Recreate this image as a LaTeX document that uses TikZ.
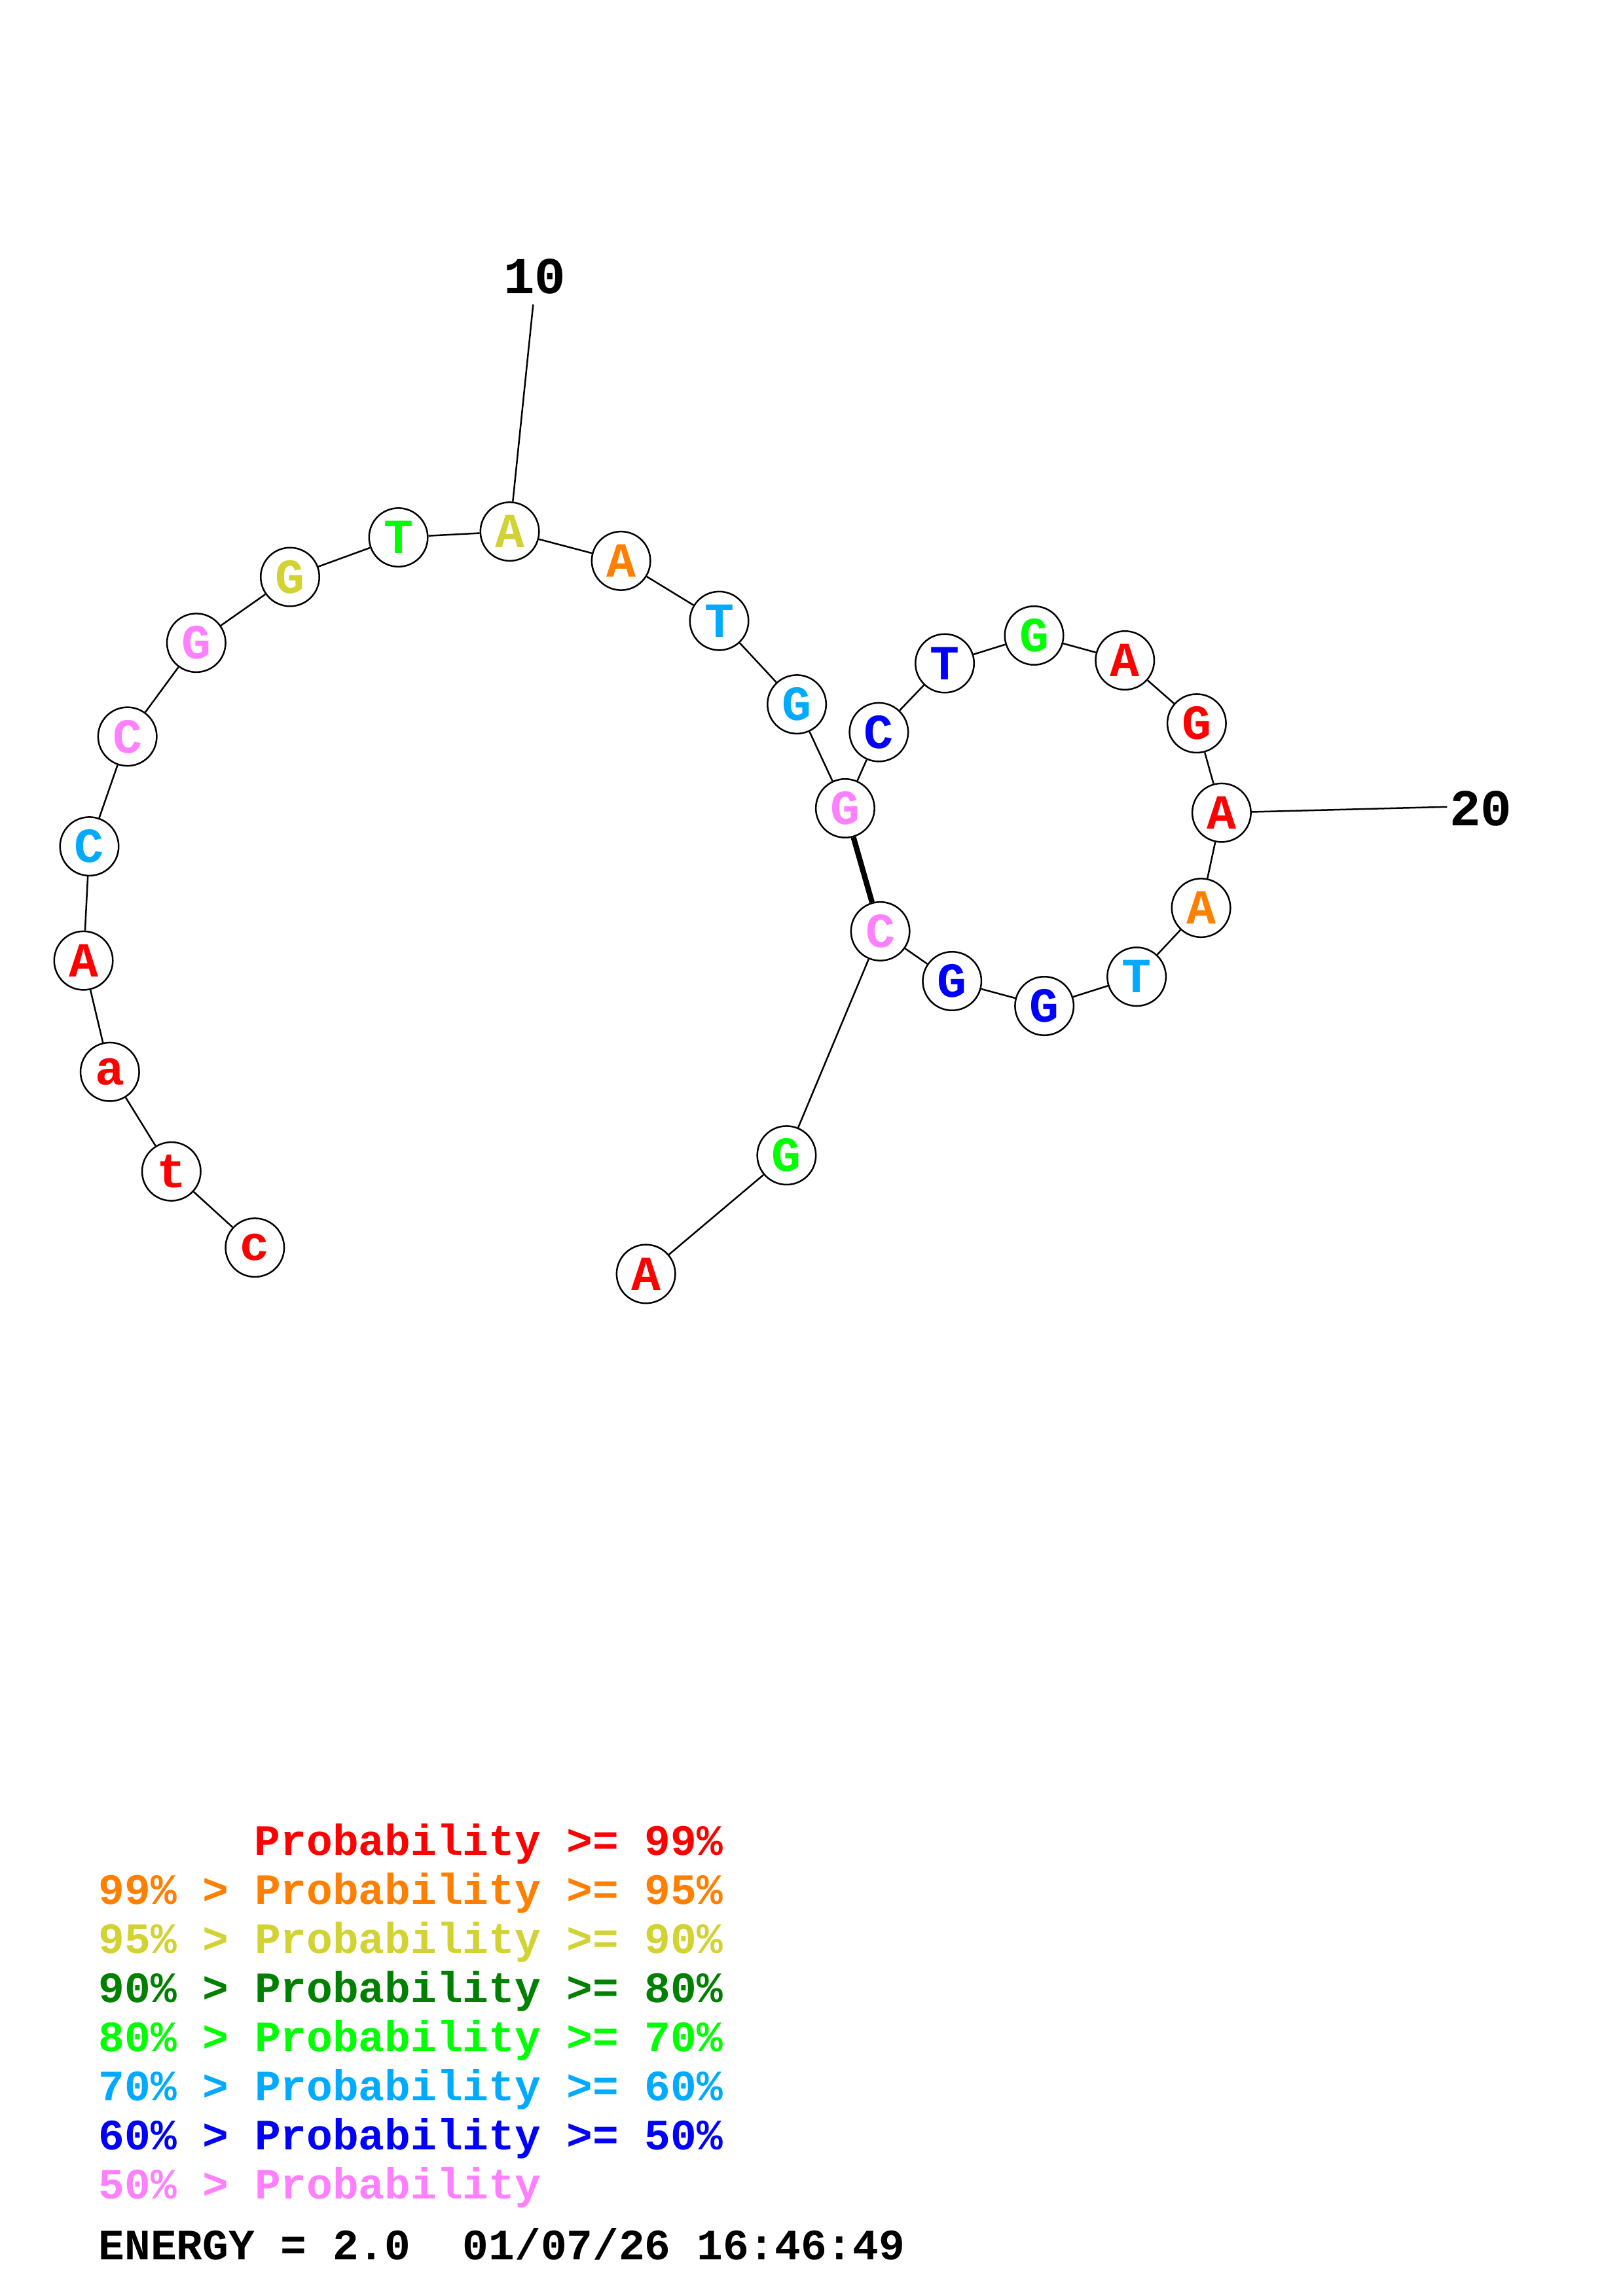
\documentclass[tikz,border=0pt]{standalone}
\usepackage{fontspec}
\newfontfamily\seqmono{Liberation Mono}
\usepackage{tikz}
\usetikzlibrary{positioning}
\definecolor{pbred}{RGB}{255, 0, 0}
\definecolor{pborange}{RGB}{255, 128, 0}
\definecolor{pbyellow}{RGB}{210, 210, 50}
\definecolor{pbdkgreen}{RGB}{0, 128, 0}
\definecolor{pbgreen}{RGB}{0, 255, 0}
\definecolor{pbcyan}{RGB}{0, 170, 255}
\definecolor{pbblue}{RGB}{0, 0, 255}
\definecolor{pbpink}{RGB}{255, 128, 255}
\newcommand{\base}[1]{\textbf{#1}}

\begin{document}
\begin{tikzpicture}[
    x=0.5373pt, y=-0.5373pt,
    nt/.style={
      circle, draw=black, line width=0.6pt, fill=white,
      minimum size=21.5pt, inner sep=0pt,
      font=\seqmono\bfseries\fontsize{18}{18}\selectfont
    },
    numlabel/.style={
      inner sep=0pt, font=\seqmono\bfseries\fontsize{19}{19}\selectfont
    },
    legend/.style={
      anchor=base west, inner sep=0pt,
      font=\seqmono\bfseries\fontsize{15.9}{15.9}\selectfont
    },
    bond/.style={line width=0.6pt},
    pair/.style={line width=2pt}
  ]
    \useasboundingbox (0,0) rectangle (1108,1568);

    % nucleotides, 5' to 3'
    \node[nt, text=pbred]    (n1)  at (174,852) {\base{c}};
    \node[nt, text=pbred]    (n2)  at (117,800) {\base{t}};
    \node[nt, text=pbred]    (n3)  at (75,732)  {\base{a}};
    \node[nt, text=pbred]    (n4)  at (57,656)  {\base{A}};
    \node[nt, text=pbcyan]   (n5)  at (61,578)  {\base{C}};
    \node[nt, text=pbpink]   (n6)  at (87,503)  {\base{C}};
    \node[nt, text=pbpink]   (n7)  at (134,439) {\base{G}};
    \node[nt, text=pbyellow] (n8)  at (198,394) {\base{G}};
    \node[nt, text=pbgreen]  (n9)  at (272,367) {\base{T}};
    \node[nt, text=pbyellow] (n10) at (348,363) {\base{A}};
    \node[nt, text=pborange] (n11) at (424,383) {\base{A}};
    \node[nt, text=pbcyan]   (n12) at (491,424) {\base{T}};
    \node[nt, text=pbcyan]   (n13) at (544,481) {\base{G}};
    \node[nt, text=pbpink]   (n14) at (577,552) {\base{G}};
    \node[nt, text=pbblue]   (n15) at (600,500) {\base{C}};
    \node[nt, text=pbblue]   (n16) at (645,453) {\base{T}};
    \node[nt, text=pbgreen]  (n17) at (706,434) {\base{G}};
    \node[nt, text=pbred]    (n18) at (768,451) {\base{A}};
    \node[nt, text=pbred]    (n19) at (817,494) {\base{G}};
    \node[nt, text=pbred]    (n20) at (834,555) {\base{A}};
    \node[nt, text=pborange] (n21) at (820,620) {\base{A}};
    \node[nt, text=pbcyan]   (n22) at (776,667) {\base{T}};
    \node[nt, text=pbblue]   (n23) at (713,687) {\base{G}};
    \node[nt, text=pbblue]   (n24) at (650,670) {\base{G}};
    \node[nt, text=pbpink]   (n25) at (601,636) {\base{C}};
    \node[nt, text=pbgreen]  (n26) at (537,789) {\base{G}};
    \node[nt, text=pbred]    (n27) at (441,870) {\base{A}};

    % backbone
    \draw[bond] (n1) -- (n2);
    \draw[bond] (n2) -- (n3);
    \draw[bond] (n3) -- (n4);
    \draw[bond] (n4) -- (n5);
    \draw[bond] (n5) -- (n6);
    \draw[bond] (n6) -- (n7);
    \draw[bond] (n7) -- (n8);
    \draw[bond] (n8) -- (n9);
    \draw[bond] (n9) -- (n10);
    \draw[bond] (n10) -- (n11);
    \draw[bond] (n11) -- (n12);
    \draw[bond] (n12) -- (n13);
    \draw[bond] (n13) -- (n14);
    \draw[bond] (n14) -- (n15);
    \draw[bond] (n15) -- (n16);
    \draw[bond] (n16) -- (n17);
    \draw[bond] (n17) -- (n18);
    \draw[bond] (n18) -- (n19);
    \draw[bond] (n19) -- (n20);
    \draw[bond] (n20) -- (n21);
    \draw[bond] (n21) -- (n22);
    \draw[bond] (n22) -- (n23);
    \draw[bond] (n23) -- (n24);
    \draw[bond] (n24) -- (n25);
    \draw[bond] (n25) -- (n26);
    \draw[bond] (n26) -- (n27);

    % base pair
    \draw[pair] (n14) -- (n25);

    % position ticks
    \coordinate (tick10) at (364,208);
    \coordinate (tick20) at (988,551);
    \node[numlabel] (lab10) at (365,189)  {10};
    \node[numlabel] (lab20) at (1011,552) {20};
    \draw[bond] (n10) -- (tick10);
    \draw[bond] (n20) -- (tick20);

    % legend
    \node[legend, text=pbred]     (key1) at (173.5,1267) {Probability >= 99\%};
    \node[legend, text=pborange]  (key2) at (67,1300.5) {99\% > Probability >= 95\%};
    \node[legend, text=pbyellow]  (key3) at (67,1334)   {95\% > Probability >= 90\%};
    \node[legend, text=pbdkgreen] (key4) at (67,1367.5) {90\% > Probability >= 80\%};
    \node[legend, text=pbgreen]   (key5) at (67,1401)   {80\% > Probability >= 70\%};
    \node[legend, text=pbcyan]    (key6) at (67,1434.5) {70\% > Probability >= 60\%};
    \node[legend, text=pbblue]    (key7) at (67,1468)   {60\% > Probability >= 50\%};
    \node[legend, text=pbpink]    (key8) at (67,1501.5) {50\% > Probability};
    \node[legend, text=black]     (energy) at (67,1543) {ENERGY = 2.0\ \ 01/07/26 16:46:49};
  \end{tikzpicture}
\end{document}
